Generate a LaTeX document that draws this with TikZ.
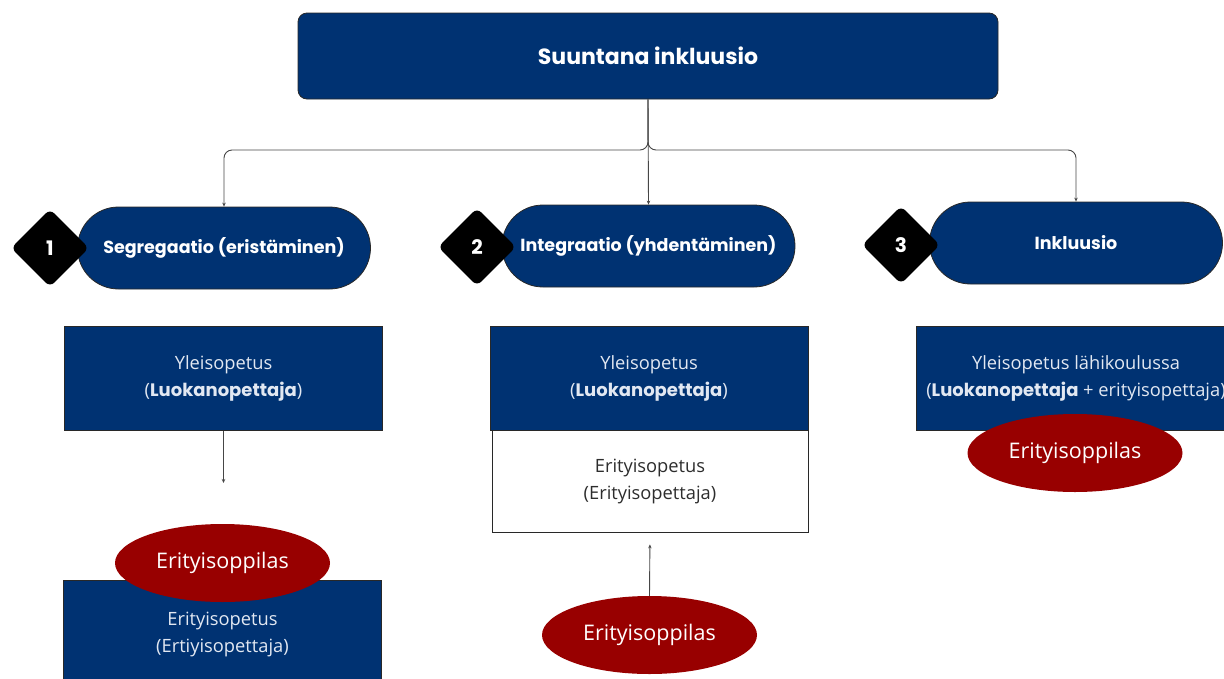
\documentclass[tikz,border=0pt]{standalone}
\usepackage{fontspec}
\setmainfont{Open Sans}
\newfontfamily\headfont{Poppins}
\usetikzlibrary{shapes.geometric,shapes.misc,arrows.meta}
\definecolor{navy}{RGB}{0,50,114}
\definecolor{wine}{RGB}{152,0,0}
\definecolor{paleText}{RGB}{226,232,242}
\definecolor{inkText}{RGB}{45,45,45}
\definecolor{edge}{RGB}{40,40,40}
\definecolor{wire}{RGB}{70,70,70}
\tikzset{
  x=1pt, y=-1pt,
  headbox/.style={draw=edge, line width=0.8pt, fill=navy, rounded corners=9pt,
    minimum width=700pt, minimum height=86pt, inner sep=0pt,
    text=white, font=\headfont\bfseries\fontsize{22}{26}\selectfont},
  pill/.style={rounded rectangle, draw=edge, line width=0.8pt, fill=navy,
    minimum width=293pt, minimum height=82pt, inner sep=0pt,
    text=white, font=\headfont\bfseries\fontsize{17.5}{20}\selectfont},
  badge/.style={diamond, fill=black, rounded corners=6pt, minimum width=78pt,
    minimum height=78pt, inner sep=0pt, aspect=1,
    text=white, font=\headfont\bfseries\fontsize{20}{24}\selectfont},
  bodytext/.style={align=center, font=\fontsize{18.3}{27}\selectfont,
    execute at begin node={\rule{0pt}{27pt}}},
  bluebox/.style={bodytext, draw=edge, line width=0.8pt, fill=navy, inner sep=0pt,
    minimum width=318pt, minimum height=104pt, text=paleText},
  whitebox/.style={bodytext, draw=edge, line width=0.8pt, fill=white, inner sep=0pt,
    minimum width=316pt, minimum height=102pt, text=inkText},
  pupil/.style={ellipse, fill=wine, inner sep=0pt, minimum width=215pt,
    minimum height=78pt, text=white, font=\fontsize{21.5}{24}\selectfont},
  conn/.style={draw=wire, line width=0.9pt, -{Stealth[length=4pt,width=3.5pt]}}
}
\newcommand{\hb}[1]{{\headfont\bfseries\fontsize{18}{27}\selectfont #1}}
\begin{document}
\begin{tikzpicture}
\useasboundingbox (0,0) rectangle (1224,678);

% title
\node[headbox] (top) at (648,56) {Suuntana inkluusio};

% three approaches
\node[pill] (p1) at (224,248) {Segregaatio (eristäminen)};
\node[badge] (d1) at (50,248) {1};
\node[pill] (p2) at (648.5,246) {Integraatio (yhdentäminen)};
\node[badge] (d2) at (477,247) {2};
\node[pill] (p3) at (1076,243) {Inkluusio};
\node[badge] (d3) at (901,245) {3};

% branching connectors
\coordinate (j) at (648,150);
\draw[conn, rounded corners=8pt] (top.south) -- (j) -| (p1.north);
\draw[conn, rounded corners=8pt] (top.south) -- (j) -| (p3.north);
\draw[conn] (top.south) -- (p2.north);

% 1: segregation
\node[bluebox] (y1) at (223.5,378.5) {Yleisopetus\\(\hb{Luokanopettaja})};
\coordinate (y1end) at (223.5,483);
\draw[conn] (y1.south) -- (y1end);
\node[bluebox, minimum height=130pt] (e1) at (222.5,645) {};
\node[bodytext, text=paleText] (e1t) at (222.5,634)
  {Erityisopetus\\(Ertiyisopettaja)};
\node[pupil] (s1) at (222.5,563) {Erityisoppilas};

% 2: integration
\node[bluebox] (y2) at (649,378) {Yleisopetus\\(\hb{Luokanopettaja})};
\node[whitebox] (e2) at (650,481) {Erityisopetus\\(Erityisopettaja)};
\node[pupil] (s2) at (649.5,635) {Erityisoppilas};
\draw[conn, shorten >=12pt] (s2.north) -- (e2.south);

% 3: inclusion
\node[bluebox, minimum width=320pt] (y3) at (1076,378) {Yleisopetus lähikoulussa\\(\hb{Luokanopettaja} + erityisopettaja)};
\node[pupil] (s3) at (1075,453) {Erityisoppilas};
\end{tikzpicture}
\end{document}
